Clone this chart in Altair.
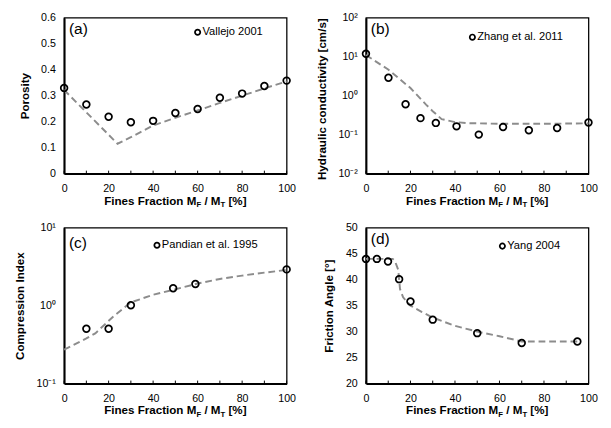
import altair as alt
import pandas as pd

FONT = "Liberation Sans"
W, H = 230, 161

x_ticks = [0, 10, 20, 30, 40, 50, 60, 70, 80, 90, 100]

# (a) Vallejo 2001 - porosity
a_px = [0, 10, 20, 30, 40, 50, 60, 70, 80, 90, 100]
a_py = [0.330, 0.266, 0.219, 0.198, 0.203, 0.233, 0.249, 0.292, 0.308, 0.337, 0.358]
a_lx = [0, 24, 30, 40, 50, 60, 70, 80, 90, 100]
a_ly = [0.322, 0.115, 0.140, 0.185, 0.215, 0.243, 0.272, 0.300, 0.328, 0.355]

# (b) Zhang et al. 2011 - hydraulic conductivity
b_px = [0, 10.1, 17.8, 24.5, 31.4, 40.7, 50.7, 61.6, 73.2, 85.9, 100]
b_py = [12.0, 2.9, 0.60, 0.265, 0.20, 0.163, 0.100, 0.157, 0.13, 0.148, 0.205]
b_lx = [0, 10, 20, 27, 30, 34, 40, 46, 60, 80, 100]
b_ly = [11.0, 4.7, 1.57, 0.59, 0.40, 0.25, 0.21, 0.197, 0.19, 0.19, 0.195]

# (c) Pandian et al. 1995 - compression index
c_px = [10, 20, 30, 49, 59, 100]
c_py = [0.506, 0.506, 1.01, 1.67, 1.90, 2.92]
c_lx = [0, 10, 14, 22, 30, 40, 50, 60, 70, 80, 90, 100]
c_ly = [0.272, 0.38, 0.44, 0.72, 1.10, 1.38, 1.62, 1.92, 2.20, 2.43, 2.65, 2.87]

# (d) Yang 2004 - friction angle
d_px = [0, 4.9, 9.9, 14.9, 20, 30, 50, 70, 95]
d_py = [44.0, 44.0, 43.5, 40.1, 35.8, 32.3, 29.7, 27.8, 28.1]
d_lx = [0, 12, 13, 14.5, 15.3, 16.7, 20, 25, 30, 40, 50, 60, 70, 95]
d_ly = [44.0, 44.0, 43.6, 41.9, 38.2, 36.6, 35.0, 33.8, 32.7, 31.1, 30.0, 29.1, 28.1, 28.1]

# Arial/Liberation Sans Bold advance widths (per em) for title layout
BW = {"F": .611, "i": .278, "n": .611, "e": .556, "s": .556, " ": .278, "r": .389,
      "a": .556, "c": .556, "t": .333, "o": .611, "M": .833, "/": .278, "[": .333,
      "%": .889, "]": .333, "T": .611}


def text_width(s, size):
    return sum(BW.get(ch, .556) for ch in s) * size


def one(t):
    return pd.DataFrame({"t": [t]})


def x_title_layers():
    pieces = [("Fines Fraction M", 12, 0), ("F", 8, 3), (" / M", 12, 0), ("T", 8, 3), (" [%]", 12, 0)]
    total = sum(text_width(p, s) for p, s, _ in pieces)
    x0 = W / 2 - total / 2
    layers = []
    for p, s, dy in pieces:
        stripped = p.lstrip(" ")
        lead = text_width(p[: len(p) - len(stripped)], s)
        layers.append(
            alt.Chart(one(stripped)).mark_text(align="left", baseline="alphabetic", font=FONT,
                                                fontSize=s, fontWeight="bold", color="black")
            .encode(text="t:N", x=alt.value(x0 + lead), y=alt.value(H + 32 + dy))
        )
        x0 += text_width(p, s)
    return layers


def log_label_expr():
    return ("datum.value > 50 ? '10²' : datum.value > 5 ? '10¹' : datum.value > 0.5 ? '10⁰' : "
            "datum.value > 0.05 ? '10⁻¹' : '10⁻²'")


def panel(px, py, lx, ly, yscale, yaxis, label, leg_text, leg_x, leg_y, lab_y):
    xenc = alt.X("x:Q", scale=alt.Scale(domain=[0, 100], nice=False, zero=False),
                 axis=alt.Axis(values=x_ticks, title=None, ticks=False, labelFlush=False,
                               labelPadding=10, grid=False))
    yenc = alt.Y("y:Q", scale=yscale, axis=yaxis)
    line = alt.Chart(pd.DataFrame({"x": lx, "y": ly})).mark_line(
        color="#8c8c8c", strokeDash=[7, 4], strokeWidth=2).encode(x=xenc, y=yenc)
    pts = alt.Chart(pd.DataFrame({"x": px, "y": py})).mark_point(
        shape="circle", filled=False, color="black", size=48, strokeWidth=1.8, opacity=1
    ).encode(x=xenc, y=yenc)
    ticks = alt.Chart(pd.DataFrame({"x": x_ticks})).mark_rule(color="black", strokeWidth=1).encode(
        x="x:Q", y=alt.value(H), y2=alt.value(H - 3))
    leg_pt = alt.Chart(one("")).mark_point(
        shape="circle", filled=False, color="black", size=30, strokeWidth=1.8, opacity=1
    ).encode(x=alt.value(leg_x), y=alt.value(leg_y))
    leg_tx = alt.Chart(one(leg_text)).mark_text(
        align="left", baseline="middle", font=FONT, fontSize=11.5, color="black"
    ).encode(text="t:N", x=alt.value(leg_x + 5), y=alt.value(leg_y))
    lab = alt.Chart(one(label)).mark_text(
        align="left", baseline="middle", font=FONT, fontSize=16, color="black"
    ).encode(text="t:N", x=alt.value(5), y=alt.value(lab_y))
    return alt.layer(line, pts, ticks, leg_pt, leg_tx, lab, *x_title_layers()).properties(
        width=W, height=H)


ytitle_kw = dict(grid=False, ticks=False, labelPadding=9, titleFontWeight="bold", titlePadding=10)

pa = panel(a_px, a_py, a_lx, a_ly,
           alt.Scale(domain=[0, 0.6], nice=False),
           alt.Axis(values=[0, 0.1, 0.2, 0.3, 0.4, 0.5, 0.6], format=".1~f", title="Porosity", **ytitle_kw),
           "(a)", "Vallejo 2001", 138, 15, 12)
pb = panel(b_px, b_py, b_lx, b_ly,
           alt.Scale(type="log", domain=[0.01, 100], nice=False),
           alt.Axis(values=[0.01, 0.1, 1, 10, 100], labelExpr=log_label_expr(),
                    title="Hydraulic conductivity [cm/s]", titleAnchor="end", **ytitle_kw),
           "(b)", "Zhang et al. 2011", 110, 20, 12)
pc = panel(c_px, c_py, c_lx, c_ly,
           alt.Scale(type="log", domain=[0.1, 10], nice=False),
           alt.Axis(values=[0.1, 1, 10], labelExpr=log_label_expr(),
                    title="Compression Index", **ytitle_kw),
           "(c)", "Pandian et al. 1995", 96, 18, 16)
pd_ = panel(d_px, d_py, d_lx, d_ly,
            alt.Scale(domain=[20, 50], nice=False, zero=False),
            alt.Axis(values=[20, 25, 30, 35, 40, 45, 50], title="Friction Angle [°]", **ytitle_kw),
            "(d)", "Yang 2004", 141, 19, 12)

chart = alt.concat(pa, pb, pc, pd_, columns=2, spacing={"row": 11, "column": 19}).configure(
    padding={"top": -4, "left": 5, "right": 5, "bottom": 5}, font=FONT
).configure_view(stroke="black", strokeWidth=1.3).configure_axis(
    domainColor="black", domainWidth=2, labelFont=FONT, labelFontSize=11, labelColor="black",
    titleFont=FONT, titleFontSize=12, titleColor="black"
)

chart.save("out.html", embed_options={"renderer": "svg", "actions": False})
